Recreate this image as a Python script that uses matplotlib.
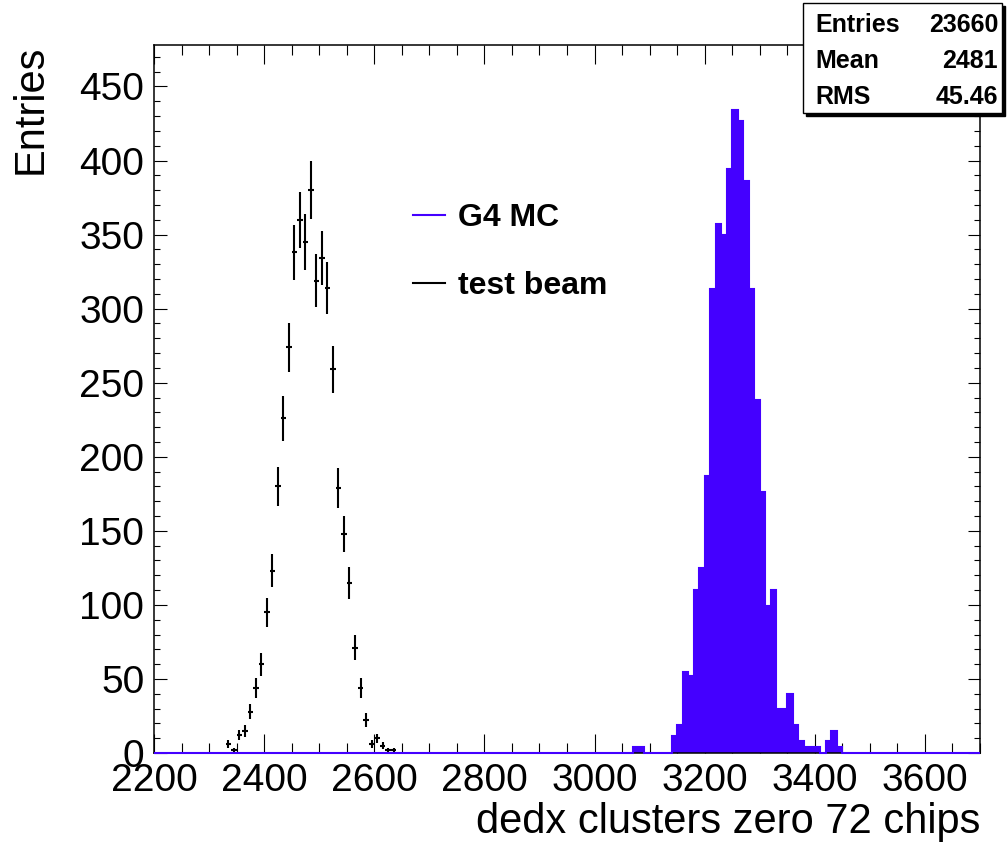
import matplotlib.pyplot as plt
import numpy as np
from matplotlib.lines import Line2D
from matplotlib.patches import Rectangle

plt.rcParams['font.family'] = ['Liberation Sans', 'DejaVu Sans']

# test beam: counts per 10-unit bin, first bin centred at 2335
tb_first = 2335
tb_counts = [6, 2, 12, 15, 28, 44, 60, 95, 123, 180, 226, 274, 338, 360, 345, 380,
             319, 334, 314, 259, 179, 148, 115, 71, 44, 22, 6, 10, 5, 2, 2]

# G4 MC: 10-unit bins starting at 3070 (zero elsewhere)
mc_start = 3070
mc_counts = [4.3, 4.3, 0, 0, 0, 0, 0, 11.5, 19, 55, 52, 110, 125, 187, 313, 357,
             350, 394, 434, 427, 386, 313, 238, 176, 99, 110, 30, 30, 40, 19, 8,
             4.3, 4.3, 4.3, 0, 8, 15, 4.3]

stats_names = ["Entries", "Mean", "RMS"]
stats_vals = ["23660", "2481", "45.46"]

bin_w = 10
xmin, xmax = 2200, 3700
blue = '#4400ff'

W, H = 1007, 843
fig = plt.figure(figsize=(W / 100, H / 100), dpi=100)
ax = fig.add_axes([154 / W, 1 - 753 / H, (980 - 154) / W, (753 - 45) / H])

edges = np.arange(xmin, xmax + bin_w, bin_w)
full = np.zeros(len(edges) - 1)
i0 = (mc_start - xmin) // bin_w
full[i0:i0 + len(mc_counts)] = mc_counts
ax.stairs(full, edges, fill=True, color=blue, lw=0, zorder=2)
ax.stairs(full, edges, color=blue, lw=1.5, zorder=3, clip_on=False)

tb_x = tb_first + bin_w * np.arange(len(tb_counts))
tb_y = np.array(tb_counts, dtype=float)
ax.errorbar(tb_x, tb_y, xerr=bin_w / 2, yerr=np.sqrt(tb_y), fmt='none',
            ecolor='black', elinewidth=1.5, capsize=0, zorder=4)

ax.set_xlim(xmin, xmax)
ax.set_ylim(0, 478)
ax.set_xticks(np.arange(2200, 3601, 200))
ax.set_xticks(np.arange(2200, 3701, 50), minor=True)
ax.set_yticks(np.arange(0, 451, 50))
ax.set_yticks(np.arange(0, 471, 10), minor=True)
ax.tick_params(axis='both', which='both', direction='in', top=True, right=True,
               width=0.8, labelsize=28)
ax.tick_params(axis='x', which='major', length=14, pad=7)
ax.tick_params(axis='x', which='minor', length=7)
ax.tick_params(axis='y', which='major', length=9, pad=7)
ax.tick_params(axis='y', which='minor', length=4.5)
for s in ax.spines.values():
    s.set_linewidth(1.1)

ax.set_xlabel('dedx clusters zero 72 chips', fontsize=30, loc='right')
ax.xaxis.set_label_coords(1.0, -0.069)
ax.set_ylabel('Entries', fontsize=30, loc='top')
ax.yaxis.set_label_coords(-0.125, 1.0)

handles = [Line2D([], [], color=blue, lw=1.5), Line2D([], [], color='black', lw=1.5)]
ax.legend(handles, ['G4 MC', 'test beam'], loc='center left',
          bbox_to_anchor=(413 / W, 1 - 252 / H), bbox_transform=fig.transFigure,
          frameon=False, prop={'weight': 'bold', 'size': 23}, handlelength=1.0,
          handletextpad=0.4, labelspacing=1.18, borderpad=0, borderaxespad=0)

# stats box
bl, bt, br, bb = 803, 3, 1002, 113
fig.add_artist(Rectangle(((bl + 3) / W, 1 - (bb + 3) / H), (br - bl) / W, (bb - bt) / H,
                         transform=fig.transFigure, facecolor='black', edgecolor='black',
                         zorder=10))
fig.add_artist(Rectangle((bl / W, 1 - bb / H), (br - bl) / W, (bb - bt) / H,
                         transform=fig.transFigure, facecolor='white', edgecolor='black',
                         lw=1.0, zorder=11))
for k, (name, val) in enumerate(zip(stats_names, stats_vals)):
    yy = 1 - (25 + 36 * k) / H
    fig.text(815 / W, yy, name, fontsize=18, fontweight='bold', va='center', zorder=12)
    fig.text(998 / W, yy, val, fontsize=18, fontweight='bold', va='center', ha='right',
             zorder=12)

fig.savefig('out.png', dpi=100)
